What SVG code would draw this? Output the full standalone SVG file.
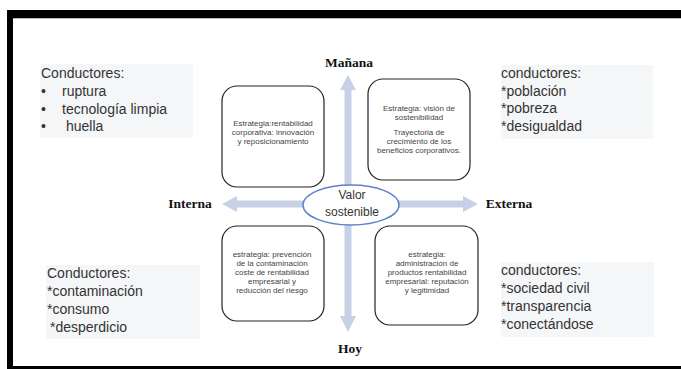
<svg xmlns="http://www.w3.org/2000/svg" width="681" height="369" viewBox="0 0 681 369">
<style>
.cond{font-family:"Liberation Sans",Arial,sans-serif;font-size:14px;fill:#333}
.panel{fill:#f5f6f8}
.box{fill:#fff;stroke:#222;stroke-width:1.2}
.bt{font-family:"Liberation Sans",Arial,sans-serif;font-size:8px;fill:#444;text-anchor:middle}
.ax{font-family:"Liberation Serif","Times New Roman",serif;font-size:13.5px;font-weight:bold;fill:#111;text-anchor:middle}
.arrow{fill:#c7d1e6}
</style>
<rect x="0" y="0" width="681" height="369" fill="#fff"/>
<g id="frame">
<rect x="7" y="10" width="674" height="8" fill="#000"/>
<rect x="7" y="10" width="6" height="359" fill="#000"/>
<rect x="7" y="366" width="674" height="3" fill="#000"/>
<line x1="13" y1="18.5" x2="681" y2="18.5" stroke="#bbb" stroke-width="1"/>
</g>
<g id="connectors">
<polygon class="arrow" points="348,75 356,90 351.5,90 351.5,316 356,316 348,332 340,316 344.5,316 344.5,90 340,90"/>
<polygon class="arrow" points="222,204 237,196 237,200.5 463,200.5 463,196 478,204 463,212 463,207.5 237,207.5 237,212"/>
</g>
<g id="drivers-tl">
<rect class="panel" x="40" y="64" width="153" height="74"/>
<text class="cond" x="41" y="78">Conductores:</text>
<text class="cond" x="41" y="96">•</text><text class="cond" x="62" y="96">ruptura</text>
<text class="cond" x="41" y="114">•</text><text class="cond" x="62" y="114">tecnología limpia</text>
<text class="cond" x="41" y="131">•</text><text class="cond" x="66" y="131">huella</text>
</g>
<g id="drivers-tr">
<rect class="panel" x="501" y="65" width="152" height="74"/>
<text class="cond" x="501" y="78">conductores:</text>
<text class="cond" x="501" y="96">*población</text>
<text class="cond" x="501" y="113">*pobreza</text>
<text class="cond" x="501" y="131">*desigualdad</text>
</g>
<g id="drivers-bl">
<rect class="panel" x="46" y="265" width="154" height="74"/>
<text class="cond" x="47" y="278">Conductores:</text>
<text class="cond" x="47" y="296">*contaminación</text>
<text class="cond" x="47" y="314">*consumo</text>
<text class="cond" x="50" y="332">*desperdicio</text>
</g>
<g id="drivers-br">
<rect class="panel" x="501" y="262" width="153" height="75"/>
<text class="cond" x="501" y="275">conductores:</text>
<text class="cond" x="501" y="293">*sociedad civil</text>
<text class="cond" x="501" y="311">*transparencia</text>
<text class="cond" x="501" y="329">*conectándose</text>
</g>
<g id="box-tl">
<rect class="box" x="222" y="86" width="102" height="101" rx="15"/>
<text class="bt" x="273" y="126">Estrategia:rentabilidad</text>
<text class="bt" x="273" y="135">corporativa: innovación</text>
<text class="bt" x="273" y="144">y reposicionamiento</text>
</g>
<g id="box-tr">
<rect class="box" x="368" y="79" width="102" height="101" rx="15"/>
<text class="bt" x="419" y="111">Estrategia: visión de</text>
<text class="bt" x="419" y="120">sostenibilidad</text>
<text class="bt" x="419" y="135">Trayectoria de</text>
<text class="bt" x="419" y="144">crecimiento de los</text>
<text class="bt" x="419" y="153">beneficios corporativos.</text>
</g>
<g id="box-bl">
<rect class="box" x="222" y="226" width="102" height="95" rx="15"/>
<text class="bt" x="272" y="257">estrategia: prevención</text>
<text class="bt" x="272" y="266">de la contaminación</text>
<text class="bt" x="272" y="275">coste de rentabilidad</text>
<text class="bt" x="272" y="284">empresarial y</text>
<text class="bt" x="272" y="293">reducción del riesgo</text>
</g>
<g id="box-br">
<rect class="box" x="375" y="226" width="103" height="99" rx="15"/>
<text class="bt" x="427" y="257">estrategia:</text>
<text class="bt" x="427" y="266">administración de</text>
<text class="bt" x="427" y="275">productos rentabilidad</text>
<text class="bt" x="427" y="284">empresarial: reputación</text>
<text class="bt" x="427" y="293">y legitimidad</text>
</g>
<g id="center">
<ellipse cx="351" cy="205" rx="48" ry="20" fill="#fff" stroke="#5b84c8" stroke-width="1.5"/>
<text x="352" y="199" font-family="Liberation Sans,Arial,sans-serif" font-size="12" fill="#333" text-anchor="middle">Valor</text>
<text x="352" y="216" font-family="Liberation Sans,Arial,sans-serif" font-size="12" fill="#333" text-anchor="middle">sostenible</text>
</g>
<g id="labels">
<text class="ax" x="349" y="67">Mañana</text>
<text class="ax" x="190" y="208">Interna</text>
<text class="ax" x="509" y="208">Externa</text>
<text class="ax" x="350" y="353">Hoy</text>
</g>
</svg>
